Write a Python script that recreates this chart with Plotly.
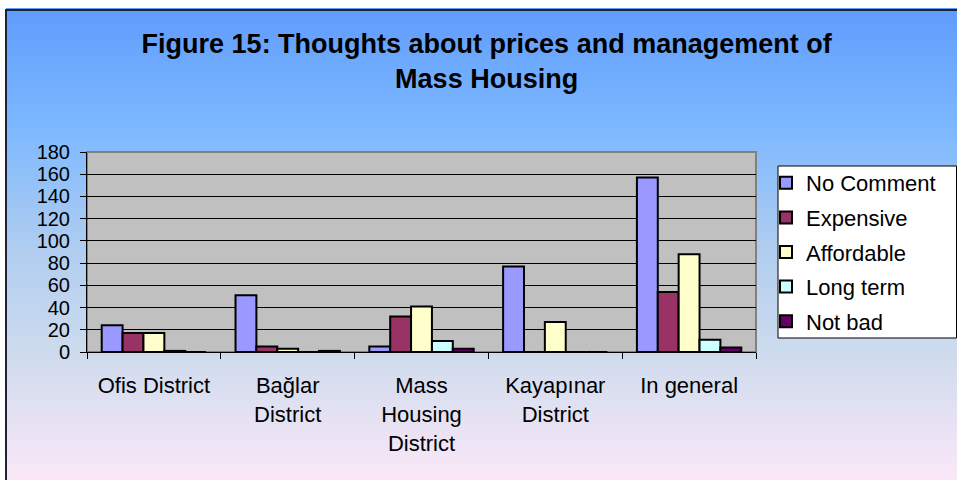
import plotly.graph_objects as go

# ---- data ----
categories = ["Ofis District", "Bağlar<br>District", "Mass<br>Housing<br>District",
              "Kayapınar<br>District", "In general"]
no_comment = [24, 51, 5, 77, 157]
expensive = [17, 5, 32, 0, 54]
affordable = [17, 3, 41, 27, 88]
long_term = [1, 0, 10, 0, 11]
not_bad = [0, 1, 3, 0, 4]
series_names = ["No Comment", "Expensive", "Affordable", "Long term", "Not bad"]
series_values = [no_comment, expensive, affordable, long_term, not_bad]
series_colors = ["#9999ff", "#993366", "#ffffcc", "#ccffff", "#660066"]
y_ticks = list(range(0, 181, 20))

W, H = 957, 480
ML, MR, MT, MB = 87, 201, 152, 128
PW, PH = W - ML - MR, H - MT - MB

def px_to_paper_x(px):
    return (px - ML) / PW

def px_to_paper_y(py):
    return (H - MB - py) / PH

FONT = "Liberation Sans, Arial, sans-serif"

fig = go.Figure()
for name, vals, col in zip(series_names, series_values, series_colors):
    fig.add_trace(go.Bar(
        x=categories, y=vals, name=name, legendgroup=name,
        marker=dict(color=col, line=dict(color="black", width=2)),
    ))

# background gradient (style only)
stops = [(0, (94, 154, 252)), (130, (125, 185, 255)), (250, (176, 205, 240)),
         (360, (208, 220, 238)), (480, (251, 232, 248))]

def color_at(py):
    for (y0, c0), (y1, c1) in zip(stops[:-1], stops[1:]):
        if y0 <= py <= y1:
            t = (py - y0) / (y1 - y0)
            return "rgb(%d,%d,%d)" % tuple(round(a + (b - a) * t) for a, b in zip(c0, c1))
    return "rgb(%d,%d,%d)" % stops[-1][1]

shapes = []
step = 4
for py in range(8, H, step):
    shapes.append(dict(type="rect", xref="paper", yref="paper", layer="below",
                       x0=px_to_paper_x(6), x1=px_to_paper_x(W + 5),
                       y0=px_to_paper_y(py + step + 0.5), y1=px_to_paper_y(py),
                       line=dict(width=0), fillcolor=color_at(py + step / 2)))
# plot area
shapes.append(dict(type="rect", xref="paper", yref="paper", layer="below",
                   x0=0, x1=1, y0=0, y1=1, fillcolor="#c0c0c0",
                   line=dict(color="#808080", width=2)))
# legend box
shapes.append(dict(type="rect", xref="paper", yref="paper", layer="below",
                   x0=px_to_paper_x(778), x1=px_to_paper_x(956.5),
                   y0=px_to_paper_y(338), y1=px_to_paper_y(166),
                   fillcolor="white", line=dict(color="black", width=1)))
# outer border
shapes.append(dict(type="rect", xref="paper", yref="paper", layer="above",
                   x0=px_to_paper_x(6), x1=px_to_paper_x(W + 20),
                   y0=px_to_paper_y(H + 20), y1=px_to_paper_y(10),
                   fillcolor="rgba(0,0,0,0)", line=dict(color="#1c2434", width=2)))

fig.update_layout(
    width=W, height=H,
    margin=dict(l=ML, r=MR, t=MT, b=MB, pad=0),
    paper_bgcolor="white", plot_bgcolor="#c0c0c0",
    barmode="group", bargap=0.22, bargroupgap=0,
    font=dict(family=FONT, size=22, color="black"),
    title=dict(text="<b>Figure 15: Thoughts about prices and management of<br>Mass Housing</b>",
               x=0.5085, xanchor="center", y=1 - 53 / H, yanchor="middle", yref="container",
               font=dict(family=FONT, size=27, color="black")),
    xaxis=dict(showline=True, linecolor="black", linewidth=1, ticks="outside",
               tickson="boundaries", ticklen=6, tickcolor="black",
               tickfont=dict(size=22), showgrid=False, ticklabelstandoff=14),
    yaxis=dict(range=[0, 180], tickvals=y_ticks, showline=True, linecolor="black",
               linewidth=1, ticks="outside", ticklen=6, tickcolor="black",
               gridcolor="black", gridwidth=1, tickfont=dict(size=20), zeroline=False,
               ticklabelstandoff=6),
    legend=dict(x=px_to_paper_x(766), y=px_to_paper_y(162), xanchor="left", yanchor="top",
                bgcolor="rgba(0,0,0,0)", borderwidth=0,
                font=dict(size=22), tracegroupgap=3, itemwidth=30),
    shapes=shapes,
)

fig.write_html("out.html", config={"displayModeBar": False},
               post_script="document.body.style.margin='0';")
